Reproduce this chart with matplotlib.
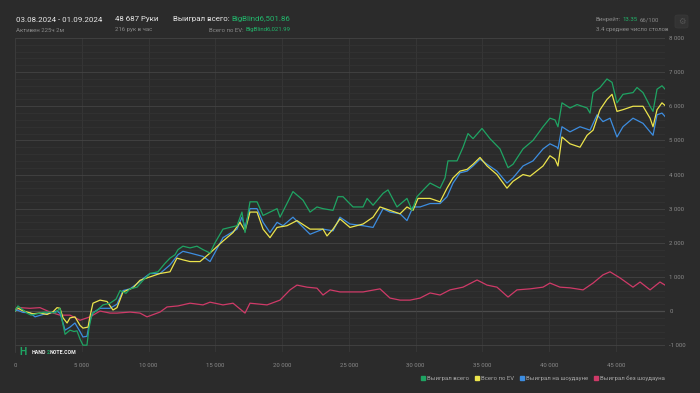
import numpy as np
import matplotlib
matplotlib.use("Agg")
import matplotlib.pyplot as plt
from matplotlib.lines import Line2D
from matplotlib.ticker import FixedLocator, MultipleLocator, FuncFormatter
from matplotlib.patches import FancyBboxPatch
from matplotlib.text import Annotation

plt.rcParams['font.family'] = ['Roboto', 'DejaVu Sans']

# ---------------- data (hands in thousands, values in big blinds) ----------------
hands_k_total = [0, 0.22, 0.52, 0.9, 1.2, 1.65, 2.1, 2.62, 3.0, 3.37,
                 3.52, 3.75, 4.12, 4.42, 4.64, 4.87, 5.09, 5.39, 5.54, 5.77,
                 6.14, 6.59, 7.12, 7.57, 7.87, 8.31, 8.61, 9.14, 9.59, 10.11,
                 10.71, 11.24, 11.61, 11.99, 12.21, 12.58, 13.11, 13.63, 14.08, 14.61,
                 14.98, 15.58, 16.1, 16.63, 17.0, 17.23, 17.6, 18.13, 18.58, 19.1,
                 19.63, 19.85, 20.37, 20.82, 21.57, 22.1, 22.62, 23.07, 23.82, 24.19,
                 24.57, 24.94, 25.32, 26.07, 26.37, 26.82, 27.57, 27.94, 28.61, 29.36,
                 29.74, 30.11, 30.71, 31.09, 31.84, 32.21, 32.43, 33.11, 33.56, 33.93,
                 34.31, 34.98, 35.58, 36.33, 36.93, 37.3, 38.05, 38.8, 39.55, 40.07,
                 40.45, 40.67, 40.97, 41.57, 42.1, 42.85, 43.07, 43.3, 43.82, 44.34,
                 44.72, 45.09, 45.54, 46.29, 46.59, 47.04, 47.57, 47.79, 48.09, 48.46, 48.69]
won_total = [0, 150, 60, -60, -120, -80, -40, -30, -60, 80,
             -250, -680, -560, -600, -580, -820, -1000, -1000, -500, -80,
             20, 180, 230, 350, 600, 520, 650, 700, 900, 1100,
             1150, 1400, 1550, 1650, 1800, 1900, 1850, 1900, 1800, 1700,
             2000, 2400, 2450, 2500, 2900, 2300, 3200, 3200, 2800, 2900,
             3000, 2750, 3150, 3500, 3250, 2900, 3050, 3000, 2950, 3350,
             3350, 3200, 3050, 3050, 3300, 3100, 3450, 3550, 3050, 3300,
             2950, 3350, 3600, 3750, 3600, 3900, 4400, 4400, 4800, 5200,
             5050, 5350, 5050, 4750, 4200, 4300, 4750, 5000, 5400, 5650,
             5600, 5400, 6100, 5950, 6050, 5950, 5800, 6400, 6550, 6800,
             6700, 6100, 6350, 6400, 6550, 6400, 6000, 5850, 6500, 6600, 6502]

hands_k_ev = [0, 0.15, 0.52, 0.9, 1.35, 1.87, 2.4, 2.85, 3.15, 3.37,
              3.6, 3.9, 4.12, 4.49, 4.87, 5.09, 5.47, 5.62, 5.84, 6.37,
              6.89, 7.34, 7.64, 8.09, 8.84, 9.36, 10.11, 10.86, 11.61, 12.13,
              12.58, 13.11, 13.86, 14.61, 15.58, 16.33, 16.85, 17.23, 17.6, 18.13,
              18.58, 19.1, 19.63, 20.37, 21.12, 22.1, 23.07, 23.37, 23.82, 24.34,
              25.09, 26.07, 26.82, 27.34, 28.09, 28.84, 29.36, 29.81, 30.19, 31.09,
              31.84, 32.36, 32.81, 33.33, 33.86, 34.31, 34.83, 35.36, 36.1, 36.85,
              37.3, 38.05, 38.58, 39.55, 40.07, 40.45, 40.67, 40.97, 41.57, 42.32,
              42.85, 43.3, 43.82, 44.34, 44.72, 45.09, 45.54, 46.29, 47.04, 47.57,
              47.79, 48.09, 48.46, 48.69]
won_ev = [0, 100, 20, -30, -80, -60, -100, -20, 100, 80,
          -200, -350, -200, -170, -420, -500, -470, -150, 230, 320,
          280, 30, 100, 560, 680, 900, 1000, 1100, 1150, 1550,
          1500, 1450, 1450, 1700, 2050, 2300, 2600, 2350, 2900, 2900,
          2400, 2150, 2450, 2500, 2650, 2400, 2400, 2200, 2400, 2700,
          2450, 2550, 2750, 3050, 2950, 2850, 3050, 2950, 3300, 3300,
          3200, 3600, 3900, 4100, 4150, 4300, 4500, 4250, 4000, 3600,
          3800, 4000, 3950, 4250, 4550, 4450, 4250, 5100, 4900, 4800,
          5150, 5300, 5900, 6200, 6350, 5850, 5900, 6000, 6000, 5650,
          5400, 5900, 6100, 6022]

hands_k_sd = [0, 0.15, 0.6, 1.12, 1.5, 2.1, 2.62, 3.15, 3.37, 3.52,
              3.75, 4.12, 4.49, 4.64, 4.87, 5.09, 5.39, 5.62, 5.84, 6.37,
              7.12, 7.64, 8.09, 8.61, 9.14, 9.59, 10.11, 10.86, 11.61, 12.21,
              12.58, 13.11, 14.08, 14.61, 15.58, 16.63, 17.0, 17.23, 17.6, 18.13,
              18.58, 19.1, 19.63, 20.07, 20.82, 22.1, 23.07, 23.82, 24.34, 25.09,
              26.07, 26.82, 27.57, 28.09, 28.84, 29.36, 29.81, 30.34, 31.09, 31.84,
              32.36, 32.81, 33.33, 33.86, 34.31, 34.83, 35.36, 36.1, 36.85, 37.3,
              38.05, 38.8, 39.55, 40.07, 40.6, 40.67, 40.97, 41.57, 42.32, 43.07,
              43.6, 44.04, 44.57, 45.09, 45.54, 46.29, 47.04, 47.57, 47.79, 48.09,
              48.46, 48.69]
won_sd = [0, 30, -40, -50, -170, -100, -60, 0, -70, -250,
          -560, -470, -350, -450, -600, -760, -740, -270, -50, 80,
          80, 200, 600, 650, 800, 950, 1100, 1100, 1350, 1650,
          1750, 1700, 1600, 1450, 2150, 2400, 2750, 2450, 3000, 3000,
          2600, 2300, 2600, 2500, 2750, 2250, 2400, 2350, 2750, 2550,
          2500, 2450, 3000, 2900, 2850, 2650, 3050, 3050, 3150, 3150,
          3350, 3750, 4050, 4100, 4250, 4450, 4300, 4100, 3750, 3900,
          4250, 4400, 4750, 4900, 4800, 4750, 5400, 5250, 5400, 5300,
          5750, 5550, 5650, 5100, 5400, 5650, 5500, 5250, 5150, 5750,
          5800, 5700]

hands_k_nsd = [0, 0.37, 1.12, 1.87, 2.62, 3.37, 4.12, 4.87, 5.62, 6.37,
               7.12, 7.64, 8.61, 9.36, 9.89, 10.86, 11.39, 12.21, 13.11, 14.08,
               14.61, 15.58, 16.33, 17.23, 17.6, 18.88, 19.85, 20.6, 21.12, 21.87,
               22.62, 23.07, 23.6, 24.34, 25.09, 26.07, 27.34, 28.09, 28.84, 29.59,
               30.34, 31.09, 31.84, 32.58, 33.56, 34.61, 35.36, 36.1, 36.33, 36.93,
               37.6, 38.58, 39.55, 40.07, 40.82, 41.57, 42.55, 43.3, 44.04, 44.57,
               45.32, 46.29, 46.82, 47.57, 48.31, 48.69]
won_nsd = [0, 100, 80, 100, -30, -120, -120, -270, -170, 0,
           -60, -60, -30, -60, -170, -30, 120, 150, 230, 180,
           260, 180, 230, -60, 230, 180, 320, 620, 760, 700,
           670, 470, 620, 560, 560, 560, 650, 380, 320, 320,
           380, 530, 470, 620, 700, 910, 760, 700, 620, 410,
           620, 650, 700, 820, 700, 680, 620, 820, 1060, 1150,
           970, 700, 850, 620, 850, 760]

total_hands = 48687
x_ticks = [0, 5000, 10000, 15000, 20000, 25000, 30000, 35000, 40000, 45000]
y_ticks = [-1000, 0, 1000, 2000, 3000, 4000, 5000, 6000, 7000, 8000]
legend_labels = ["Выиграл всего", "Всего по EV", "Выиграл на шоудауне", "Выиграл без шоудауна"]

# ---------------- style ----------------
BG = "#2b2b2b"
C_GREEN = "#1fa463"
C_YELLOW = "#ece44c"
C_BLUE = "#3d8de0"
C_RED = "#cf3a68"
TXT_GREEN = "#22b56b"
GREY = "#8a8a8a"

fig = plt.figure(figsize=(7.0, 3.93), dpi=100, facecolor=BG)
ax = fig.add_axes([15/700, 1-352/393, 650/700, (352-38)/393])
ax.set_facecolor(BG)

def fmt_thousands(v, pos=None):
    v = int(round(v))
    s = f"{abs(v):,}".replace(",", " ")
    return ("-" if v < 0 else "") + s

ax.set_xlim(0, total_hands)
ax.set_ylim(-1200, 8000)
ax.xaxis.set_major_locator(FixedLocator(x_ticks))
ax.yaxis.set_major_locator(FixedLocator(y_ticks))
ax.yaxis.set_minor_locator(MultipleLocator(200))
ax.xaxis.set_major_formatter(FuncFormatter(fmt_thousands))
ax.yaxis.set_major_formatter(FuncFormatter(fmt_thousands))
ax.yaxis.tick_right()
ax.tick_params(axis='both', which='both', length=0, colors=GREY, labelsize=4.3)
ax.tick_params(axis='x', pad=8)
ax.tick_params(axis='y', pad=3)
ax.grid(True, which='major', axis='y', color="#444444", lw=0.6)
ax.grid(True, which='minor', axis='y', color="#343434", lw=0.5)
ax.grid(True, which='major', axis='x', color="#383838", lw=0.6)
for sp in ['top', 'right', 'bottom']:
    ax.spines[sp].set_visible(False)
ax.spines['left'].set_color("#3c3c3c")
ax.spines['left'].set_linewidth(0.6)
ax.axhline(0, color="#7a7a7a", lw=0.8, zorder=1.5)

lw = 0.9
ax.plot(np.array(hands_k_nsd)*1000, won_nsd, color=C_RED, lw=lw, zorder=3)
ax.plot(np.array(hands_k_sd)*1000, won_sd, color=C_BLUE, lw=lw, zorder=4)
ax.plot(np.array(hands_k_ev)*1000, won_ev, color=C_YELLOW, lw=lw, zorder=5)
ax.plot(np.array(hands_k_total)*1000, won_total, color=C_GREEN, lw=lw, zorder=6)

# ---------------- header ----------------
def ypos(px):
    return 1 - px/393

MAIN = 5.7
SUB = 4.3
fig.text(16/700, ypos(21.5), "03.08.2024 - 01.09.2024", color="#e8e8e8", fontsize=MAIN, va='baseline')
fig.text(16/700, ypos(31.5), "Активен 225ч 2м", color=GREY, fontsize=SUB, va='baseline')
fig.text(115/700, ypos(21.5), "48 687 Руки", color="#e8e8e8", fontsize=MAIN, va='baseline')
fig.text(115/700, ypos(31.5), "216 рук в час", color=GREY, fontsize=SUB, va='baseline')

t1 = fig.text(173/700, ypos(21.5), "Выиграл всего:", color="#e8e8e8", fontsize=MAIN, va='baseline')
fig.add_artist(Annotation("BigBlind6,501.86", xy=(1, 0), xycoords=t1, xytext=(1.5, 0),
                          textcoords='offset points', color=TXT_GREEN, fontsize=MAIN,
                          va='bottom', ha='left'))
t2 = fig.text(290/700, ypos(31.5), "BigBlind6,021.99", color=TXT_GREEN, fontsize=SUB, va='baseline', ha='right')
fig.add_artist(Annotation("Всего по EV:", xy=(0, 0), xycoords=t2, xytext=(-1.2, 0),
                          textcoords='offset points', color=GREY, fontsize=SUB,
                          va='bottom', ha='right'))

t3 = fig.text(596/700, ypos(21), "Винрейт:", color=GREY, fontsize=SUB, va='baseline')
t4 = Annotation("13.35", xy=(1, 0), xycoords=t3, xytext=(1.2, 0), textcoords='offset points',
                color=TXT_GREEN, fontsize=SUB, va='bottom', ha='left')
fig.add_artist(t4)
fig.add_artist(Annotation("66/100", xy=(1, 0), xycoords=t4, xytext=(1.2, 0), textcoords='offset points',
                          color=GREY, fontsize=SUB, va='bottom', ha='left'))
fig.text(596/700, ypos(31), "3.4 среднее число столов", color=GREY, fontsize=SUB, va='baseline')

# gear button
fig.add_artist(FancyBboxPatch((675/700, ypos(28)), 13/700, 13/393,
                              boxstyle="round,pad=0,rounding_size=0.004",
                              transform=fig.transFigure, facecolor="#333333",
                              edgecolor="#3a3a3a", lw=0.5))
fig.text(681.5/700, ypos(21.5), "⚙", color="#555555", fontsize=6, ha='center', va='center',
         family=['DejaVu Sans'])

# ---------------- logo ----------------
fig.text(19/700, ypos(352), "H", color=C_GREEN, fontsize=7.5, fontweight='bold', va='center')
l1 = fig.text(32/700, ypos(352), "HAND", color="#f0f0f0", fontsize=3.8, fontweight='bold', va='center')
l2 = Annotation("2", xy=(1, 0.5), xycoords=l1, color=C_GREEN, fontsize=3.8,
                fontweight='bold', va='center', ha='left')
fig.add_artist(l2)
fig.add_artist(Annotation("NOTE.COM", xy=(1, 0.5), xycoords=l2, color="#f0f0f0",
                          fontsize=3.8, fontweight='bold', va='center', ha='left'))

# ---------------- legend ----------------
handles = [Line2D([], [], marker='s', ls='', color=c, markersize=2.2)
           for c in (C_GREEN, C_YELLOW, C_BLUE, C_RED)]
leg = fig.legend(handles, legend_labels, loc='center right', bbox_to_anchor=(667/700, ypos(378)),
                 ncol=4, frameon=False, fontsize=4.3, labelcolor="#a8a8a8",
                 handlelength=0.6, handletextpad=0.3, columnspacing=1.1, borderaxespad=0)

fig.savefig("out.png", dpi=100, facecolor=BG)
